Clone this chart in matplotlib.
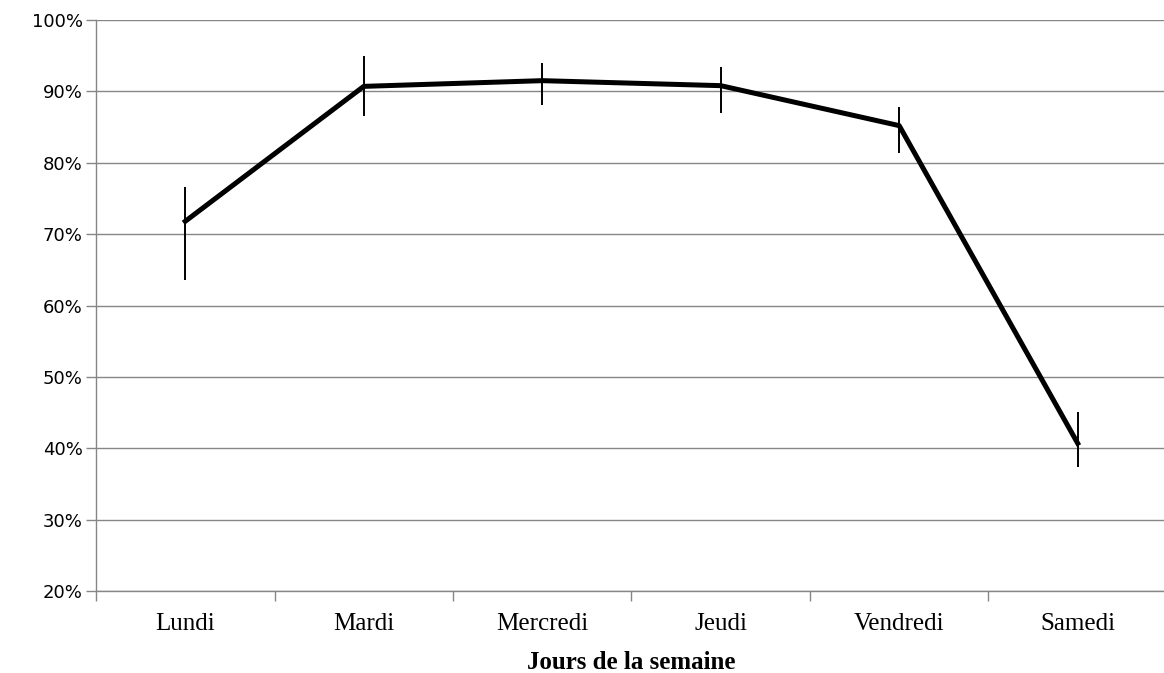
import numpy as np
import matplotlib.pyplot as plt
from matplotlib.ticker import FuncFormatter

# Data
jours = ['Lundi', 'Mardi', 'Mercredi', 'Jeudi', 'Vendredi', 'Samedi']
valeurs = [71.8, 90.7, 91.5, 90.8, 85.2, 40.7]
err_haut = [4.8, 4.2, 2.5, 2.6, 2.6, 4.4]
err_bas = [8.2, 4.2, 3.4, 3.8, 3.8, 3.3]

grey = '#868686'

fig = plt.figure(figsize=(11.64, 6.73), dpi=100)
ax = fig.add_axes([0.0825, 0.1218, 0.920, 0.8485])

x = np.arange(len(jours))
ax.errorbar(x, valeurs, yerr=[err_bas, err_haut], color='black', linewidth=3.6,
            ecolor='black', elinewidth=1.4, capsize=0, zorder=3,
            solid_joinstyle='round')

ax.set_xlim(-0.5, len(jours) - 0.5)
ax.set_ylim(20, 100)
ax.set_yticks(np.arange(20, 101, 10))
ax.yaxis.set_major_formatter(FuncFormatter(lambda v, p: f'{v:.0f}%'))
ax.grid(axis='y', color=grey, linewidth=1)
ax.set_axisbelow(True)

ax.set_xticks(x)
ax.set_xticklabels(jours, fontfamily='Liberation Serif', fontsize=18)
ax.set_xticks(np.arange(-0.5, len(jours)), minor=True)
ax.tick_params(axis='x', which='major', length=0, pad=16)
ax.tick_params(axis='x', which='minor', length=7, color=grey, width=1)
ax.tick_params(axis='y', length=7, color=grey, width=1, pad=2.5, labelsize=13)
for lab in ax.get_yticklabels():
    lab.set_fontfamily('DejaVu Sans')

for s in ['top', 'right']:
    ax.spines[s].set_visible(False)
for s in ['left', 'bottom']:
    ax.spines[s].set_color(grey)
    ax.spines[s].set_linewidth(1)

ax.set_xlabel('Jours de la semaine', fontfamily='Liberation Serif', fontsize=18,
              fontweight='bold', labelpad=11)

fig.savefig('out.png', dpi=100)
